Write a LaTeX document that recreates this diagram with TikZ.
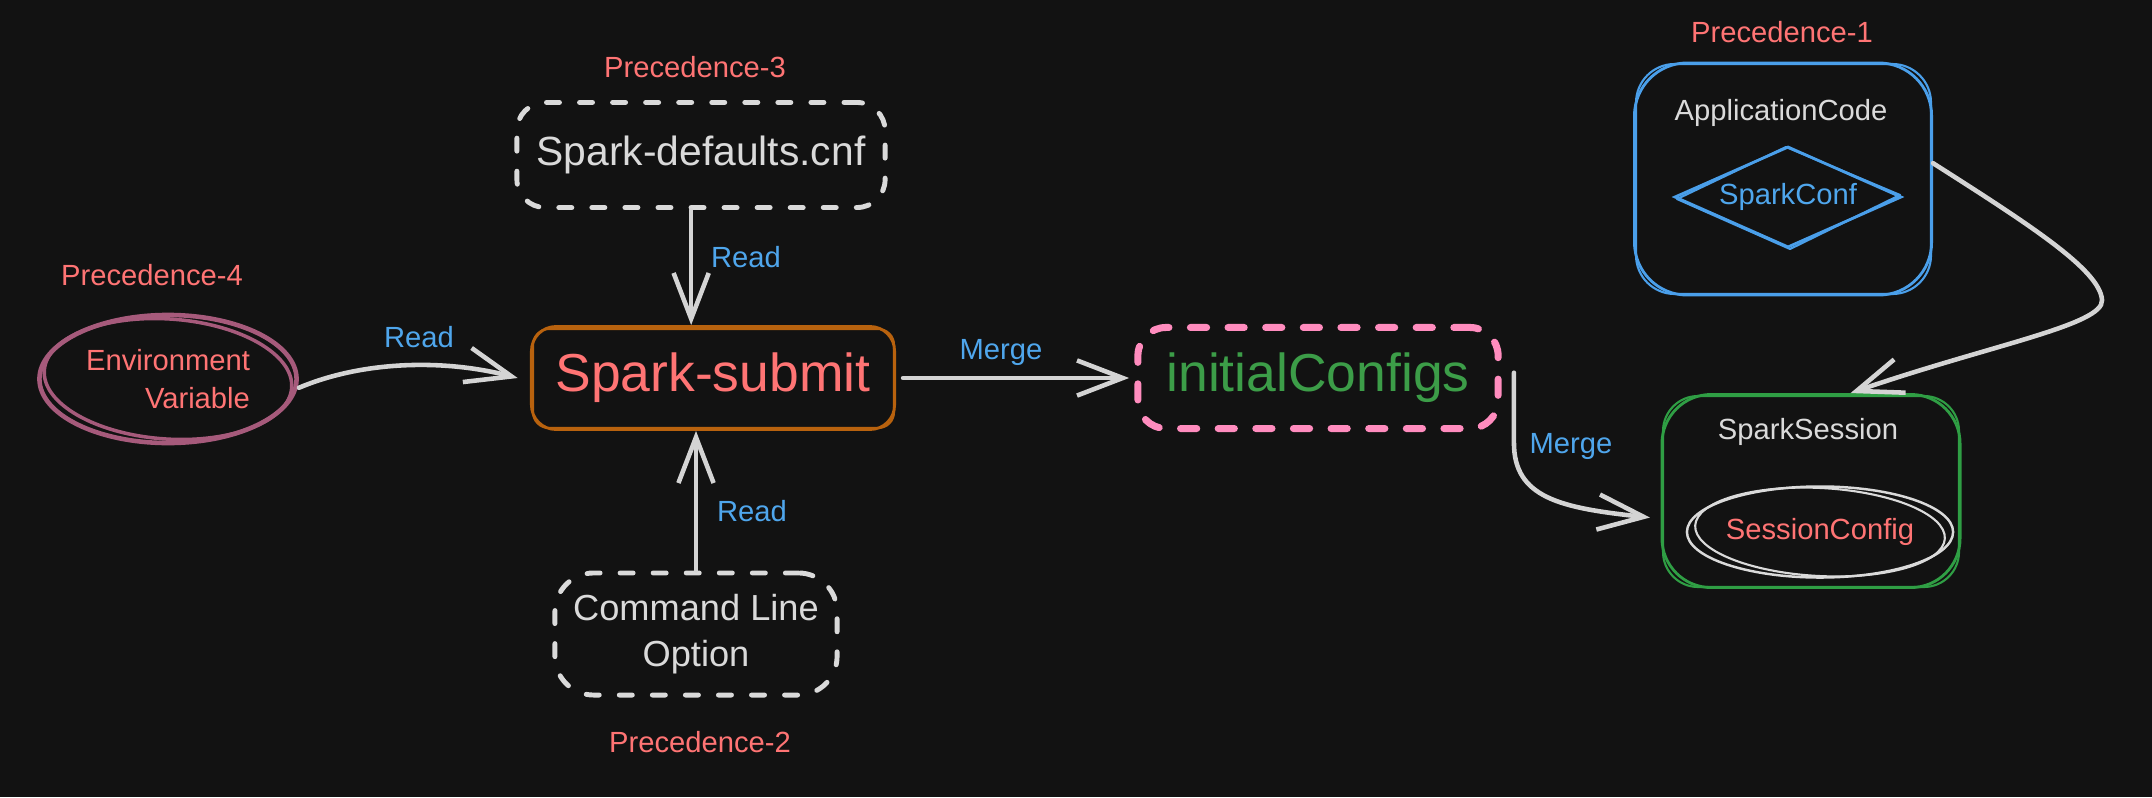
\documentclass[tikz,border=0pt]{standalone}
\usepackage{fontspec}
\setmainfont{Liberation Sans}
\usetikzlibrary{arrows.meta,shapes.geometric,calc}
\definecolor{bg}{HTML}{121212}
\definecolor{salmon}{HTML}{FF7474}
\definecolor{bluetxt}{HTML}{4FA6EC}
\definecolor{whitet}{HTML}{DADADA}
\definecolor{orangeb}{HTML}{B8620E}
\definecolor{mauve}{HTML}{A65A7B}
\definecolor{pinkb}{HTML}{FF8CBE}
\definecolor{greent}{HTML}{3C9D48}
\definecolor{greenb}{HTML}{2F9E44}
\definecolor{blueb}{HTML}{4A9FEA}
\definecolor{arrowc}{HTML}{D4D4D4}
\begin{document}
\begin{tikzpicture}[x=0.01cm,y=-0.01cm,
  lbl/.style={text=salmon,font=\fontsize{8.3}{10}\selectfont,inner sep=0pt},
  edgelbl/.style={text=bluetxt,font=\fontsize{8.3}{10}\selectfont,inner sep=0pt},
  smalltxt/.style={font=\fontsize{8.3}{10}\selectfont,inner sep=0pt},
  arr/.style={draw=arrowc,line width=1.3pt,line cap=round,line join=round,-{Straight Barb[length=13pt,width=10pt]}},
  dashbox/.style={draw=whitet,line width=1.4pt,line cap=round,dash pattern=on 3.7pt off 5.7pt,rounded corners=8pt,inner sep=0pt},
  solidbox/.style={line width=0.8pt,inner sep=0pt},
  sketch/.style={line width=0.6pt},
]
\fill[bg] (0,0) rectangle (2152,797);
\useasboundingbox (0,0) rectangle (2152,797);

% nodes
\node[ellipse,draw=mauve,line width=1.3pt,minimum width=2.57cm,minimum height=1.28cm,inner sep=0pt,align=right,text=salmon,font=\fontsize{8.3}{11}\selectfont] (env) at (168,379) {Environment\\Variable};
\draw[mauve,line width=1pt,rotate around={-4:(168,379)}] (168,379) ellipse [x radius=124, y radius=60];

\node[dashbox,minimum width=3.68cm,minimum height=1.05cm,text=whitet,font=\fontsize{11.6}{14}\selectfont] (sd) at (701,155) {Spark-defaults.cnf};

\node[solidbox,draw=orangeb,rounded corners=7pt,minimum width=3.63cm,minimum height=1.03cm,text=salmon,font=\fontsize{15.2}{18}\selectfont] (ss) at (713,378) {Spark-submit};
\draw[sketch,orangeb,rounded corners=4.5pt] (533,329) rectangle (894,428);

\node[dashbox,rounded corners=11pt,minimum width=2.82cm,minimum height=1.22cm,text=whitet,align=center,font=\fontsize{10.3}{13}\selectfont] (cl) at (696,634) {Command Line\\Option};

\node[draw=pinkb,line width=2pt,line cap=round,dash pattern=on 4.6pt off 6.1pt,rounded corners=8pt,minimum width=3.6cm,minimum height=1.01cm,inner sep=0pt,text=greent,font=\fontsize{15.2}{18}\selectfont] (ic) at (1318,378) {initialConfigs};

\node[solidbox,draw=blueb,rounded corners=15pt,minimum width=2.97cm,minimum height=2.32cm] (app) at (1783,179) {};
\draw[sketch,blueb,rounded corners=11pt] (1636,64) rectangle (1931,294);
\node[smalltxt,text=whitet] (appt) at (1781,113) {ApplicationCode};
\node[diamond,aspect=2.25,draw=blueb,line width=0.8pt,minimum width=2.27cm,minimum height=1.01cm,inner sep=0pt,text=bluetxt,font=\fontsize{8.3}{10}\selectfont] (conf) at (1788,197) {SparkConf};
\draw[sketch,blueb,line join=round] (1677,199) -- (1786,147) -- (1900,195) -- (1790,249) -- cycle;

\node[solidbox,draw=greenb,rounded corners=14pt,minimum width=2.98cm,minimum height=1.93cm] (sess) at (1811,491) {};
\draw[sketch,greenb,rounded corners=10pt] (1663,396) rectangle (1959,587);
\node[smalltxt,text=whitet] (sesst) at (1808,432) {SparkSession};
\node[ellipse,draw=whitet,line width=0.7pt,minimum width=2.54cm,minimum height=0.91cm,inner sep=0pt,text=salmon,font=\fontsize{8.3}{10}\selectfont] (scfg) at (1820,532) {SessionConfig};
\draw[sketch,whitet,rotate around={-3:(1820,532)}] (1820,532) ellipse [x radius=125, y radius=44];

% labels
\node[lbl] (p4) at (152,275) {Precedence-4};
\node[lbl] (p3) at (695,67) {Precedence-3};
\node[lbl] (p2) at (700,742) {Precedence-2};
\node[lbl] (p1) at (1782,32) {Precedence-1};
\node[edgelbl] (r1) at (419,337) {Read};
\node[edgelbl] (r2) at (746,257) {Read};
\node[edgelbl] (r3) at (752,511) {Read};
\node[edgelbl] (m1) at (1001,352) {Merge};
\node[edgelbl] (m2) at (1571,446) {Merge};

% connectors
\draw[arr] ([yshift=-2.5pt]env.east) .. controls (360,362) and (440,358) .. ([xshift=-3.5pt]ss.west);
\draw[arr] ([xshift=-2.8pt]sd.south) -- ([xshift=-2.8pt]sd.south |- ss.north);
\draw[arr] (cl.north) -- (cl.north |- ss.south);
\draw[arr] ([xshift=2pt]ss.east) -- ([xshift=-1.5pt]ic.west);
\draw[arr] ([xshift=3.5pt,yshift=1.5pt]ic.east) -- ++(0,70) .. controls +(0,55) and (1560,508) .. ([xshift=-3pt]sess.190);
\draw[arr] ([yshift=4.5pt]app.east) .. controls (2030,225) and (2100,270) .. (2102,300) .. controls (2104,325) and (1990,345) .. (sess.68);
\end{tikzpicture}
\end{document}
